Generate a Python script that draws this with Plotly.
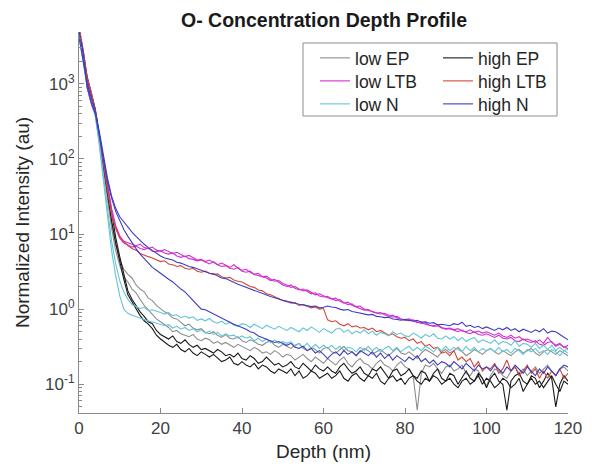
import plotly.graph_objects as go

# depth grid (nm)
depth = list(range(0, 121))

# low EP (two runs)
low_ep_1 = [5200, 2600, 1150, 720, 430, 190, 80, 32, 14, 7.5, 4.6,
            3.4, 2.9, 2.6, 2.1, 1.85, 1.7, 1.4, 1.3, 1.12, 1.0,
            0.92, 0.86, 0.76, 0.74, 0.66, 0.6, 0.63, 0.56, 0.53, 0.55,
            0.49, 0.47, 0.5, 0.45, 0.42, 0.46, 0.41, 0.4, 0.43, 0.38,
            0.36, 0.39, 0.37, 0.34, 0.33, 0.36, 0.38, 0.33, 0.31, 0.34,
            0.32, 0.3, 0.33, 0.35, 0.3, 0.28, 0.31, 0.29, 0.26, 0.3,
            0.31, 0.27, 0.26, 0.29, 0.32, 0.28, 0.27, 0.24, 0.27, 0.3,
            0.28, 0.25, 0.27, 0.29, 0.26, 0.24, 0.27, 0.3, 0.26, 0.25,
            0.27, 0.24, 0.22, 0.26, 0.29, 0.27, 0.25, 0.23, 0.27, 0.29,
            0.26, 0.28, 0.31, 0.27, 0.24, 0.26, 0.29, 0.27, 0.25, 0.28,
            0.3, 0.27, 0.25, 0.28, 0.26, 0.24, 0.27, 0.29, 0.26, 0.28,
            0.3, 0.26, 0.24, 0.27, 0.29, 0.27, 0.25, 0.28, 0.26, 0.24]
low_ep_2 = [4600, 2300, 1000, 650, 400, 170, 70, 28, 12, 6, 3.8,
            2.7, 2.3, 1.85, 1.65, 1.35, 1.12, 0.98, 0.84, 0.74, 0.68,
            0.62, 0.57, 0.5, 0.52, 0.47, 0.45, 0.43, 0.46, 0.4, 0.38,
            0.41, 0.39, 0.35, 0.37, 0.34, 0.36, 0.33, 0.31, 0.34, 0.32,
            0.3, 0.28, 0.31, 0.29, 0.26, 0.27, 0.25, 0.28, 0.26, 0.23,
            0.25, 0.24, 0.21, 0.23, 0.25, 0.22, 0.2, 0.23, 0.21, 0.19,
            0.22, 0.2, 0.18, 0.21, 0.23, 0.19, 0.17, 0.2, 0.22, 0.19,
            0.18, 0.16, 0.19, 0.21, 0.18, 0.17, 0.15, 0.18, 0.2, 0.17,
            0.16, 0.13, 0.045, 0.14, 0.18, 0.17, 0.19, 0.16, 0.14, 0.17,
            0.18, 0.15, 0.16, 0.18, 0.14, 0.13, 0.16, 0.15, 0.12, 0.095,
            0.13, 0.16, 0.15, 0.13, 0.12, 0.15, 0.17, 0.14, 0.16, 0.13,
            0.15, 0.17, 0.14, 0.16, 0.18, 0.15, 0.13, 0.16, 0.17, 0.15]

# high EP (two runs)
high_ep_1 = [5500, 2800, 1250, 760, 460, 210, 95, 40, 18, 9, 5,
             2.8, 1.75, 1.35, 1.1, 0.92, 0.8, 0.68, 0.64, 0.52, 0.46,
             0.43, 0.4, 0.44, 0.37, 0.35, 0.39, 0.34, 0.31, 0.33, 0.29,
             0.3, 0.28, 0.26, 0.29, 0.27, 0.24, 0.25, 0.23, 0.26, 0.22,
             0.21, 0.24, 0.22, 0.19, 0.2, 0.23, 0.2, 0.18, 0.19, 0.17,
             0.18, 0.2, 0.17, 0.16, 0.19, 0.17, 0.15, 0.18, 0.16, 0.15,
             0.17, 0.15, 0.14, 0.17, 0.19, 0.16, 0.14, 0.15, 0.17, 0.14,
             0.13, 0.16, 0.15, 0.17, 0.14, 0.12, 0.15, 0.16, 0.13, 0.14,
             0.16, 0.13, 0.12, 0.15, 0.14, 0.11, 0.14, 0.16, 0.12, 0.11,
             0.14, 0.13, 0.1, 0.12, 0.15, 0.12, 0.11, 0.14, 0.12, 0.09,
             0.12, 0.14, 0.11, 0.1, 0.045, 0.11, 0.13, 0.14, 0.11, 0.1,
             0.13, 0.12, 0.09, 0.11, 0.14, 0.12, 0.05, 0.1, 0.13, 0.11]
high_ep_2 = [4800, 2500, 1100, 690, 420, 185, 80, 34, 15, 7.5, 4.2,
             2.5, 1.55, 1.25, 0.98, 0.82, 0.7, 0.63, 0.55, 0.45, 0.4,
             0.36, 0.33, 0.31, 0.34, 0.29, 0.27, 0.3, 0.26, 0.24, 0.27,
             0.25, 0.23, 0.25, 0.22, 0.2, 0.21, 0.23, 0.19, 0.18, 0.2,
             0.18, 0.17, 0.19, 0.16, 0.18, 0.17, 0.15, 0.14, 0.16, 0.15,
             0.14, 0.16, 0.13, 0.15, 0.12, 0.13, 0.15, 0.14, 0.12, 0.13,
             0.14, 0.12, 0.13, 0.15, 0.12, 0.11, 0.13, 0.14, 0.12, 0.11,
             0.13, 0.12, 0.14, 0.11, 0.1, 0.12, 0.13, 0.11, 0.12, 0.1,
             0.12, 0.13, 0.11, 0.1, 0.12, 0.11, 0.13, 0.12, 0.1, 0.11,
             0.12, 0.1, 0.09, 0.11, 0.12, 0.1, 0.11, 0.13, 0.1, 0.12,
             0.11, 0.09, 0.1, 0.12, 0.11, 0.09, 0.1, 0.12, 0.08, 0.1,
             0.12, 0.1, 0.11, 0.09, 0.11, 0.13, 0.1, 0.08, 0.11, 0.1]

# low LTB (two runs)
low_ltb_1 = [5300, 2700, 1050, 700, 420, 200, 95, 42, 22, 13, 9.5,
             8.0, 7.6, 7.2, 7.0, 7.3, 6.6, 6.4, 6.7, 6.1, 5.9,
             6.2, 5.8, 5.5, 5.7, 5.3, 5.0, 5.2, 4.8, 4.5, 4.6,
             4.3, 4.5, 4.2, 3.9, 4.1, 3.8, 3.6, 3.9, 3.5, 3.3,
             3.4, 3.1, 2.9, 3.0, 2.7, 2.6, 2.4, 2.5, 2.3, 2.1,
             2.0, 2.1, 1.9, 1.8, 1.85, 1.7, 1.6, 1.65, 1.5, 1.45,
             1.48, 1.38, 1.3, 1.34, 1.22, 1.15, 1.18, 1.07, 1.02, 0.97,
             0.99, 0.92, 0.88, 0.9, 0.84, 0.8, 0.83, 0.77, 0.74, 0.72,
             0.74, 0.69, 0.66, 0.68, 0.63, 0.61, 0.6, 0.62, 0.57, 0.55,
             0.56, 0.53, 0.55, 0.51, 0.5, 0.53, 0.49, 0.51, 0.48, 0.5,
             0.47, 0.45, 0.48, 0.44, 0.42, 0.45, 0.41, 0.43, 0.39, 0.4,
             0.38, 0.36, 0.39, 0.35, 0.42, 0.36, 0.33, 0.35, 0.31, 0.3]
low_ltb_2 = [4600, 2300, 880, 540, 390, 190, 88, 38, 19, 12, 8.8,
             7.6, 7.1, 6.7, 6.9, 6.4, 6.2, 6.5, 5.9, 5.8, 6.0,
             5.6, 5.4, 5.6, 5.1, 4.9, 5.1, 4.7, 4.6, 4.4, 4.5,
             4.2, 4.0, 4.3, 3.9, 3.7, 3.8, 3.5, 3.4, 3.6, 3.2,
             3.1, 3.2, 2.9, 2.8, 2.7, 2.75, 2.5, 2.35, 2.4, 2.2,
             2.1, 1.95, 2.0, 1.85, 1.75, 1.8, 1.65, 1.55, 1.6, 1.5,
             1.42, 1.36, 1.4, 1.28, 1.2, 1.24, 1.12, 1.08, 1.1, 1.0,
             0.96, 0.93, 0.9, 0.86, 0.88, 0.82, 0.78, 0.8, 0.74, 0.71,
             0.7, 0.72, 0.67, 0.64, 0.66, 0.61, 0.59, 0.6, 0.56, 0.54,
             0.55, 0.52, 0.5, 0.53, 0.49, 0.47, 0.5, 0.46, 0.45, 0.47,
             0.44, 0.42, 0.45, 0.41, 0.4, 0.42, 0.38, 0.37, 0.4, 0.37,
             0.36, 0.38, 0.34, 0.33, 0.36, 0.37, 0.32, 0.34, 0.31, 0.33]

# high LTB
high_ltb_1 = [5800, 2900, 1200, 780, 450, 200, 90, 38, 18, 12, 9,
              8.0, 7.0, 6.4, 6.1, 5.5, 5.2, 5.0, 4.8, 4.5, 4.3,
              4.4, 4.0, 3.9, 3.7, 3.8, 3.5, 3.4, 3.5, 3.2, 3.1,
              3.2, 3.0, 2.9, 2.95, 2.7, 2.6, 2.65, 2.45, 2.35, 2.3,
              2.15, 2.0, 1.95, 1.8, 1.75, 1.6, 1.55, 1.45, 1.38, 1.3,
              1.28, 1.2, 1.22, 1.12, 1.15, 1.08, 1.04, 1.07, 1.0, 1.02,
              0.72, 0.68, 0.7, 0.63, 0.6, 0.64, 0.58, 0.6, 0.56, 0.57,
              0.53, 0.56, 0.5, 0.52, 0.48, 0.45, 0.47, 0.43, 0.41, 0.42,
              0.38, 0.4, 0.35, 0.37, 0.32, 0.34, 0.3, 0.31, 0.26, 0.27,
              0.24, 0.28, 0.21, 0.23, 0.2, 0.22, 0.17, 0.2, 0.15, 0.17,
              0.16, 0.19, 0.14, 0.16, 0.21, 0.15, 0.17, 0.13, 0.15, 0.18,
              0.14, 0.16, 0.12, 0.15, 0.12, 0.15, 0.13, 0.16, 0.12, 0.14]

# low N (two runs)
low_n_1 = [4500, 2200, 950, 610, 390, 160, 60, 24, 8, 4, 2.4,
           1.7, 1.35, 1.15, 1.08, 1.02, 1.05, 0.96, 0.98, 0.93, 0.9,
           0.86, 0.9, 0.82, 0.84, 0.77, 0.81, 0.76, 0.79, 0.71, 0.74,
           0.7, 0.75, 0.68, 0.65, 0.69, 0.63, 0.67, 0.61, 0.59, 0.64,
           0.62, 0.57, 0.63, 0.59, 0.55, 0.61, 0.57, 0.54, 0.59, 0.56,
           0.52, 0.57, 0.54, 0.5, 0.56, 0.52, 0.58, 0.53, 0.49, 0.55,
           0.52, 0.48, 0.54, 0.56, 0.49, 0.53, 0.47, 0.51, 0.48, 0.53,
           0.47, 0.51, 0.45, 0.49, 0.47, 0.44, 0.5, 0.46, 0.48, 0.44,
           0.43, 0.48, 0.45, 0.41, 0.46, 0.43, 0.47, 0.41, 0.4, 0.44,
           0.4, 0.43, 0.38, 0.42, 0.37, 0.4, 0.42, 0.36, 0.39, 0.37,
           0.35, 0.39, 0.34, 0.37, 0.36, 0.33, 0.38, 0.32, 0.35, 0.34,
           0.31, 0.35, 0.3, 0.33, 0.29, 0.33, 0.28, 0.31, 0.28, 0.29]
low_n_2 = [4300, 2100, 900, 580, 370, 150, 50, 18, 6, 2.8, 1.5,
           1.0, 0.88, 0.83, 0.79, 0.75, 0.73, 0.7, 0.67, 0.65, 0.62,
           0.6, 0.62, 0.56, 0.59, 0.54, 0.57, 0.52, 0.55, 0.5, 0.53,
           0.48, 0.51, 0.46, 0.49, 0.44, 0.47, 0.44, 0.45, 0.41, 0.44,
           0.41, 0.43, 0.38, 0.41, 0.37, 0.4, 0.36, 0.39, 0.35, 0.37,
           0.35, 0.37, 0.32, 0.35, 0.31, 0.35, 0.3, 0.34, 0.3, 0.33,
           0.3, 0.33, 0.29, 0.32, 0.28, 0.31, 0.3, 0.27, 0.31, 0.28,
           0.32, 0.28, 0.31, 0.27, 0.3, 0.32, 0.28, 0.31, 0.27, 0.3,
           0.32, 0.28, 0.31, 0.28, 0.32, 0.3, 0.27, 0.31, 0.28, 0.32,
           0.28, 0.31, 0.29, 0.27, 0.32, 0.28, 0.31, 0.27, 0.3, 0.28,
           0.3, 0.27, 0.31, 0.27, 0.29, 0.26, 0.3, 0.28, 0.25, 0.29,
           0.27, 0.3, 0.26, 0.28, 0.25, 0.29, 0.27, 0.24, 0.28, 0.26]

# high N (two runs)
high_n_1 = [4200, 2000, 1000, 650, 430, 230, 110, 55, 32, 22, 17,
            14.5, 12.2, 10.6, 9.3, 8.1, 7.3, 6.6, 6.0, 5.5, 5.1,
            4.8, 4.6, 4.5, 4.2, 4.1, 3.9, 3.7, 3.6, 3.45, 3.3,
            3.1, 3.0, 2.95, 2.75, 2.6, 2.55, 2.4, 2.25, 2.15, 2.05,
            1.95, 1.85, 1.8, 1.68, 1.62, 1.55, 1.47, 1.42, 1.37, 1.3,
            1.26, 1.24, 1.19, 1.16, 1.14, 1.12, 1.08, 1.1, 1.04, 1.06,
            1.1, 1.07, 1.05, 1.0, 0.97, 0.99, 0.93, 0.91, 0.88, 0.87,
            0.84, 0.85, 0.8, 0.79, 0.77, 0.78, 0.74, 0.73, 0.71, 0.73,
            0.71, 0.69, 0.71, 0.67, 0.68, 0.65, 0.66, 0.62, 0.63, 0.62,
            0.6, 0.64, 0.62, 0.67, 0.59, 0.61, 0.57, 0.59, 0.55, 0.58,
            0.55, 0.52, 0.56, 0.53, 0.57, 0.52, 0.55, 0.5, 0.54, 0.52,
            0.49, 0.53, 0.5, 0.55, 0.48, 0.51, 0.5, 0.46, 0.42, 0.39]
high_n_2 = [5000, 2600, 900, 560, 400, 210, 100, 50, 30, 20, 15,
            11.5, 9.3, 7.6, 6.4, 5.4, 4.7, 4.1, 3.6, 3.3, 3.0,
            2.7, 2.5, 2.3, 2.05, 1.85, 1.7, 1.5, 1.3, 1.15, 1.0,
            0.98, 0.92, 0.86, 0.8, 0.75, 0.7, 0.66, 0.63, 0.6, 0.57,
            0.54, 0.5, 0.48, 0.44, 0.42, 0.4, 0.38, 0.36, 0.37, 0.35,
            0.33, 0.35, 0.31, 0.3, 0.32, 0.28, 0.3, 0.26, 0.28, 0.25,
            0.22, 0.25, 0.27, 0.24, 0.28, 0.25, 0.27, 0.24, 0.28, 0.26,
            0.24, 0.27, 0.23, 0.26, 0.22, 0.25, 0.21, 0.24, 0.22, 0.2,
            0.23, 0.21, 0.24, 0.2, 0.22, 0.19, 0.21, 0.18, 0.2, 0.19,
            0.17, 0.2, 0.18, 0.16, 0.19, 0.17, 0.15, 0.18, 0.16, 0.17,
            0.15, 0.18, 0.16, 0.14, 0.17, 0.15, 0.18, 0.16, 0.14, 0.17,
            0.15, 0.13, 0.16, 0.14, 0.17, 0.15, 0.13, 0.16, 0.18, 0.17]

y_tickvals = [0.1, 1, 10, 100, 1000]
y_ticktext = ['10<sup>-1</sup>', '10<sup>0</sup>', '10<sup>1</sup>', '10<sup>2</sup>', '10<sup>3</sup>']

# name, runs, colour, legend id
series = [
    ('low EP', [low_ep_1, low_ep_2], '#8e8e8e', 'legend'),
    ('high EP', [high_ep_1, high_ep_2], '#1a1a1a', 'legend2'),
    ('low LTB', [low_ltb_1, low_ltb_2], '#d02fd0', 'legend3'),
    ('high LTB', [high_ltb_1], '#d4463a', 'legend4'),
    ('low N', [low_n_1, low_n_2], '#63c5d6', 'legend5'),
    ('high N', [high_n_1, high_n_2], '#3d3dbe', 'legend6'),
]

fig = go.Figure()
for name, runs, col, leg in series:
    for k, run in enumerate(runs):
        fig.add_trace(go.Scatter(
            x=depth, y=run, mode='lines', name=name,
            line=dict(color=col, width=1.1),
            legendgroup=name, showlegend=(k == 0), legend=leg
        ))

font_main = 'Liberation Sans, Arial, sans-serif'
axis_col = '#8a8a8a'

minor_vals = [m * 10 ** e for e in range(-2, 4) for m in range(2, 10)]

# plot area in pixels: left 79, width 489, top 32, height 381
def px_x(p):
    return (p - 79) / 489

def px_y(p):
    return (413 - p) / 381

def leg(xp, yp):
    return dict(x=px_x(xp), y=px_y(yp), xanchor='left', yanchor='middle',
                bgcolor='rgba(0,0,0,0)', borderwidth=0, tracegroupgap=0,
                font=dict(size=17.5, color='#262626', family=font_main))

fig.update_layout(
    width=592, height=471,
    margin=dict(l=79, r=24, t=32, b=58),
    paper_bgcolor='white', plot_bgcolor='white',
    font=dict(family=font_main, color='#404040'),
    title=dict(text='<b>O- Concentration Depth Profile</b>',
               x=(324 / 592), xanchor='center', y=1 - 20 / 471, yanchor='middle',
               font=dict(size=19.5, color='#1a1a1a')),
    legend=leg(315, 58), legend2=leg(438, 58),
    legend3=leg(315, 81), legend4=leg(438, 81),
    legend5=leg(315, 104), legend6=leg(438, 104),
    xaxis=dict(range=[0, 120], tickvals=[0, 20, 40, 60, 80, 100, 120],
               ticks='inside', ticklen=5, tickcolor=axis_col,
               showline=True, linecolor=axis_col, linewidth=1,
               showgrid=False, zeroline=False, automargin=False,
               tickfont=dict(size=17, color='#404040'),
               title=dict(text='Depth (nm)', font=dict(size=19, color='#262626'), standoff=7)),
    yaxis=dict(type='log', range=[-1.383, 3.69],
               tickvals=y_tickvals, ticktext=y_ticktext,
               ticks='inside', ticklen=5, tickcolor=axis_col,
               minor=dict(tickvals=minor_vals, ticks='inside', ticklen=3, tickcolor=axis_col),
               showline=True, linecolor=axis_col, linewidth=1,
               showgrid=False, zeroline=False, automargin=False,
               tickfont=dict(size=17, color='#404040'),
               title=dict(text='Normalized Intensity (au)', font=dict(size=19, color='#262626'), standoff=10)),
    shapes=[dict(type='rect', xref='paper', yref='paper',
                 x0=px_x(303), x1=px_x(557), y0=px_y(116), y1=px_y(43),
                 line=dict(color='#8c8c8c', width=1), fillcolor='rgba(0,0,0,0)')]
)

# drop the page's default body margin so the figure sits at the window's corner
fig.write_html('out.html', config={'displayModeBar': False},
               post_script="document.body.style.margin='0';")
